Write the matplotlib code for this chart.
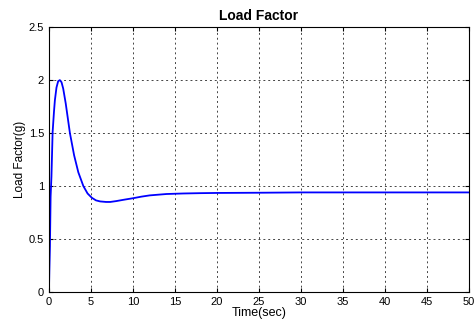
import numpy as np
import matplotlib.pyplot as plt

# values
t = [0, 0.05, 0.12, 0.2, 0.3, 0.44, 0.6, 0.71, 0.9, 1.1, 1.3, 1.5, 1.7, 2.0,
     2.5, 3.0, 3.5, 4.1, 4.6, 5.1, 5.6, 6.1, 6.8, 7.3, 8.0, 9.0, 10,
     11, 12, 14, 16, 18, 20, 25, 30, 35, 40, 45, 50]
load = [0, 0.2, 0.43, 0.9, 1.09, 1.51, 1.7, 1.81, 1.93, 1.99, 2.0, 1.98, 1.92,
        1.78, 1.5, 1.29, 1.13, 1.0, 0.93, 0.89, 0.865, 0.855, 0.85, 0.85,
        0.858, 0.872, 0.885, 0.9, 0.912, 0.925, 0.93, 0.933, 0.935, 0.937,
        0.94, 0.94, 0.94, 0.94, 0.94]

plt.rcParams['font.family'] = ['Liberation Sans', 'DejaVu Sans']

fig = plt.figure(figsize=(4.75, 3.27), dpi=100)
ax = fig.add_axes([0.103, 0.107, 0.884, 0.81])

ax.plot(t, load, color='#0000ff', lw=1.3)

ax.set_xlim(0, 50)
ax.set_ylim(0, 2.5)
ax.set_xticks(np.arange(0, 51, 5))
ax.set_yticks(np.arange(0, 2.51, 0.5))
ax.set_yticklabels(['0', '0.5', '1', '1.5', '2', '2.5'])
ax.tick_params(direction='in', labelsize=8, length=3, top=True, right=True)
ax.grid(True, color='#444444', linestyle=(0, (2, 3)), lw=0.7)

ax.set_xlabel('Time(sec)', fontsize=9, labelpad=0)
ax.set_ylabel('Load Factor(g)', fontsize=8.5, labelpad=2)
ax.set_title('Load Factor', fontsize=10, fontweight='bold', pad=5)

fig.savefig('out.png', dpi=100)
